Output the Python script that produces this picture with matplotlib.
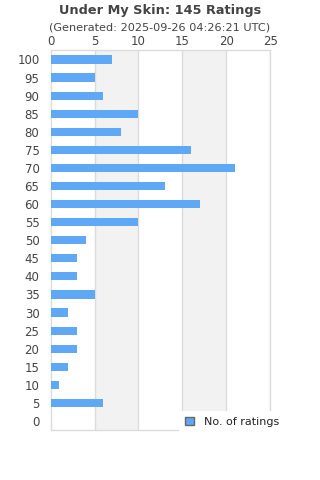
import matplotlib
matplotlib.use('Agg')
import matplotlib.pyplot as plt
from matplotlib.patches import Patch

# ratings 0..100 in steps of 5, and how many ratings each got
ratings = [0, 5, 10, 15, 20, 25, 30, 35, 40, 45, 50, 55, 60, 65, 70, 75, 80, 85, 90, 95, 100]
counts = [0, 6, 1, 2, 3, 3, 2, 5, 3, 3, 4, 10, 17, 13, 21, 16, 8, 10, 6, 5, 7]
x_ticks = [0, 5, 10, 15, 20, 25]

title = 'Under My Skin: 145 Ratings'
subtitle = '(Generated: 2025-09-26 04:26:21 UTC)'
series_name = 'No. of ratings'

bar_color = '#5fa8f5'
text_color = '#444444'
grid_color = '#dcdcdc'

fig = plt.figure(figsize=(3.2, 4.8), dpi=100)
ax = fig.add_axes([0.158, 0.104, 0.687, 0.791])

ypos = list(range(len(ratings)))
ax.barh(ypos, counts, height=0.45, color=bar_color, zorder=3)

# alternating shaded bands
for i in range(len(x_ticks) - 1):
    if i % 2 == 1:
        ax.axvspan(x_ticks[i], x_ticks[i + 1], color='#f2f2f2', zorder=0, lw=0)
for t in x_ticks[1:]:
    ax.axvline(t, color=grid_color, lw=1, zorder=1)

ax.set_xlim(0, 25)
ax.set_ylim(-0.5, len(ratings) - 0.5)
ax.set_xticks(x_ticks)
ax.set_yticks(ypos)
ax.set_yticklabels([str(r) for r in ratings])
ax.xaxis.tick_top()
ax.tick_params(axis='both', length=0, labelsize=8.5, colors=text_color)
ax.tick_params(axis='x', pad=1.5)
ax.tick_params(axis='y', pad=8)
for s in ax.spines.values():
    s.set_color(grid_color)
    s.set_linewidth(1)

fig.text(0.5, 0.979, title, ha='center', va='center', fontsize=9.3,
         fontweight='bold', color=text_color)
fig.text(0.5, 0.943, subtitle, ha='center', va='center', fontsize=8.1,
         color=text_color)

handle = Patch(facecolor=bar_color, edgecolor='#666666', linewidth=1)
leg = fig.legend([handle], [series_name], loc='upper left',
                 bbox_to_anchor=(176 / 320, 1 - 408 / 480),
                 frameon=True, fontsize=8, handlelength=0.8, handleheight=0.8,
                 borderpad=0.5, borderaxespad=0.3, handletextpad=0.9,
                 fancybox=False)
leg.get_frame().set_facecolor('white')
leg.get_frame().set_edgecolor('none')
leg.get_frame().set_alpha(1)
for t in leg.get_texts():
    t.set_color('#222222')

fig.savefig('out.png', dpi=100)
